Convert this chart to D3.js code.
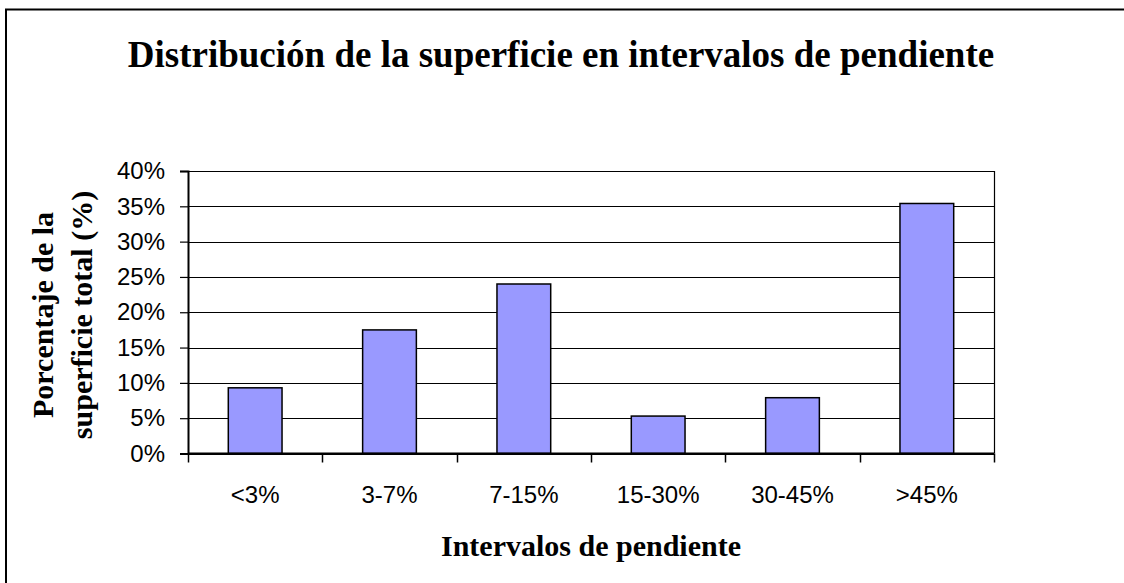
<!DOCTYPE html>
<html>
<head>
<meta charset="utf-8">
<script src="https://cdn.jsdelivr.net/npm/d3@7"></script>
<style>
    body { margin: 0; background: #fff; }
    svg { display: block; }
</style>
</head>
<body>
<div id="chart"></div>
<script>
//Datos del gráfico
const CATEGORIAS = ['<3%', '3-7%', '7-15%', '15-30%', '30-45%', '>45%'];
const VALORES = [9.3, 17.5, 24.0, 5.3, 7.9, 35.4];
const TICKS_Y = [0, 5, 10, 15, 20, 25, 30, 35, 40];

const COLOR_BARRA = '#9999FF';

let width = 1124, height = 583;

let svg = d3.select('#chart')
    .append('svg')
    .attr('width', width)
    .attr('height', height);

//Marco exterior
svg.append('rect')
    .attr('x', 6)
    .attr('y', 9.5)
    .attr('width', width + 20)
    .attr('height', height + 20)
    .attr('fill', 'none')
    .attr('stroke', '#000')
    .attr('stroke-width', 2);

//Título
svg.append('text')
    .attr('x', 561)
    .attr('y', 67)
    .attr('text-anchor', 'middle')
    .style('font-family', '"Liberation Serif", "Times New Roman", serif')
    .style('font-weight', 'bold')
    .style('font-size', '37px')
    .text('Distribución de la superficie en intervalos de pendiente');

let plotLeft = 188, plotRight = 994, plotTop = 171, plotBottom = 453.5;

let x = d3.scaleBand()
    .domain(CATEGORIAS)
    .range([plotLeft, plotRight])
    .padding(0);

let y = d3.scaleLinear()
    .domain([0, 40])
    .range([plotBottom, plotTop]);

let g = svg.append('g');

//Líneas de cuadrícula
g.selectAll('.grid')
    .data(TICKS_Y)
    .enter()
    .append('line')
    .attr('x1', plotLeft)
    .attr('x2', plotRight)
    .attr('y1', d => Math.round(y(d)) + 0.5)
    .attr('y2', d => Math.round(y(d)) + 0.5)
    .attr('stroke', '#000')
    .attr('stroke-width', 1.2);

//Borde derecho
g.append('line')
    .attr('x1', plotRight + 0.5).attr('x2', plotRight + 0.5)
    .attr('y1', plotTop).attr('y2', plotBottom)
    .attr('stroke', '#000')
    .attr('stroke-width', 1.2);

//Barras
let barW = x.bandwidth() / 2.5;
g.selectAll('.bar')
    .data(VALORES)
    .enter()
    .append('rect')
    .attr('x', (d, i) => x(CATEGORIAS[i]) + (x.bandwidth() - barW) / 2)
    .attr('y', d => y(d))
    .attr('width', barW)
    .attr('height', d => y(0) - y(d))
    .attr('fill', COLOR_BARRA)
    .attr('stroke', '#000')
    .attr('stroke-width', 1.5);

//Eje Y
let axisY = d3.axisLeft(y)
    .tickValues(TICKS_Y)
    .tickSize(8)
    .tickPadding(15)
    .tickFormat(d => d + '%');

let gy = svg.append('g')
    .attr('transform', 'translate(' + plotLeft + ',0)')
    .call(axisY);
gy.select('.domain').attr('stroke-width', 2);
gy.selectAll('.tick line').attr('stroke-width', 1.2);
gy.selectAll('.tick text')
    .style('font-family', '"Liberation Sans", Arial, sans-serif')
    .style('font-size', '24px')
    .attr('fill', '#000');

//Eje X
let axisX = d3.axisBottom(x)
    .tickSize(0)
    .tickPadding(32);

let gx = svg.append('g')
    .attr('transform', 'translate(0,' + plotBottom + ')')
    .call(axisX);
gx.select('.domain').attr('stroke-width', 2).attr('d', 'M' + plotLeft + ',0H' + plotRight);
gx.selectAll('.tick text')
    .style('font-family', '"Liberation Sans", Arial, sans-serif')
    .style('font-size', '24px')
    .attr('fill', '#000');

//Marcas entre categorías
let limites = CATEGORIAS.map(c => x(c)).concat([plotRight]);
gx.selectAll('.sep')
    .data(limites)
    .enter()
    .append('line')
    .attr('x1', d => Math.round(d) + 0.5)
    .attr('x2', d => Math.round(d) + 0.5)
    .attr('y1', 0)
    .attr('y2', 9)
    .attr('stroke', '#000')
    .attr('stroke-width', 1.5);

//Título eje X
svg.append('text')
    .attr('x', (plotLeft + plotRight) / 2)
    .attr('y', 556)
    .attr('text-anchor', 'middle')
    .style('font-family', '"Liberation Serif", "Times New Roman", serif')
    .style('font-weight', 'bold')
    .style('font-size', '30px')
    .text('Intervalos de pendiente');

//Título eje Y (dos líneas)
let yTitle = svg.append('text')
    .attr('transform', 'translate(0,315) rotate(-90)')
    .attr('text-anchor', 'middle')
    .style('font-family', '"Liberation Serif", "Times New Roman", serif')
    .style('font-weight', 'bold')
    .style('font-size', '30px');
yTitle.append('tspan').attr('x', 0).attr('y', 53).text('Porcentaje de la');
yTitle.append('tspan').attr('x', 0).attr('y', 92).text('superficie total (%)');
</script>
</body>
</html>
